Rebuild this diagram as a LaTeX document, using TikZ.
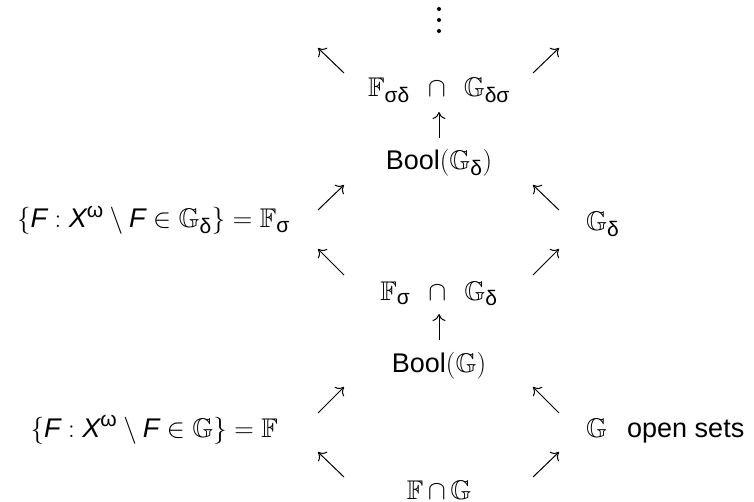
\RequirePackage{fix-cm}
\documentclass[tikz,border=0pt]{standalone}
\usepackage{amsmath,amssymb}
\usepackage{fontspec}
\setmainfont{Liberation Sans}
\usetikzlibrary{arrows.meta}
\DeclareMathSizes{27}{27}{21}{16}
\newcommand{\sfit}[1]{\text{\itshape #1}}
\newcommand{\gr}[1]{\text{#1}}
\tikzset{
  lbl/.style={inner sep=0pt, font=\fontsize{27}{32}\selectfont},
  arr/.style={-{Computer Modern Rightarrow[length=7pt,width=13pt]}, line width=1pt},
}
\begin{document}
\begin{tikzpicture}[x=1pt,y=-1pt]
\useasboundingbox (0,0) rectangle (754,502);
% vertical dots
\foreach \y in {9,20,31}{\fill (439,\y) circle (2);}
% nodes
\node[lbl, anchor=base] (top) at (439,97) {$\mathbb{F}_{\gr{σδ}}\;\,\cap\;\,\mathbb{G}_{\gr{δσ}}$};
\node[lbl, anchor=base] (bool1) at (439,170) {Bool$(\mathbb{G}_{\gr{δ}})$};
\node[lbl, anchor=base east] (left1) at (290,228) {$\{\sfit{F} : \sfit{X}^{\gr{ω}} \setminus \sfit{F} \in \mathbb{G}_{\gr{δ}}\} = \mathbb{F}_{\gr{σ}}$};
\node[lbl, anchor=base west] (right1) at (586,231) {$\mathbb{G}_{\gr{δ}}$};
\node[lbl, anchor=base] (mid) at (439,300) {$\mathbb{F}_{\gr{σ}}\;\,\cap\;\,\mathbb{G}_{\gr{δ}}$};
\node[lbl, anchor=base] (bool2) at (439,372) {Bool$(\mathbb{G})$};
\node[lbl, anchor=base east] (left2) at (278,437) {$\{\sfit{F} : \sfit{X}^{\gr{ω}} \setminus \sfit{F} \in \mathbb{G}\} = \mathbb{F}$};
\node[lbl, anchor=base west] (right2) at (586,437) {$\mathbb{G}$};
\node[lbl, anchor=base west] (open) at (627,437) {open sets};
\node[lbl, anchor=base] (bot) at (439,499) {$\mathbb{F}\,{\cap}\,\mathbb{G}$};
% arrow end points
\coordinate (a1s) at (344,73); \coordinate (a1e) at (318,48);
\coordinate (a2s) at (533,73); \coordinate (a2e) at (559,48);
\coordinate (u1s) at (439,138); \coordinate (u1e) at (439,112);
\coordinate (b1s) at (318,210); \coordinate (b1e) at (344,185);
\coordinate (b2s) at (559,210); \coordinate (b2e) at (533,185);
\coordinate (c1s) at (344,275); \coordinate (c1e) at (318,249);
\coordinate (c2s) at (533,275); \coordinate (c2e) at (559,249);
\coordinate (u2s) at (439,340); \coordinate (u2e) at (439,314);
\coordinate (d1s) at (318,413); \coordinate (d1e) at (344,387);
\coordinate (d2s) at (559,413); \coordinate (d2e) at (533,387);
\coordinate (e1s) at (344,477); \coordinate (e1e) at (318,452);
\coordinate (e2s) at (533,477); \coordinate (e2e) at (559,452);
\foreach \p in {a1,a2,u1,b1,b2,c1,c2,u2,d1,d2,e1,e2}{
  \draw[arr] (\p s) -- (\p e);
}
\end{tikzpicture}
\end{document}
